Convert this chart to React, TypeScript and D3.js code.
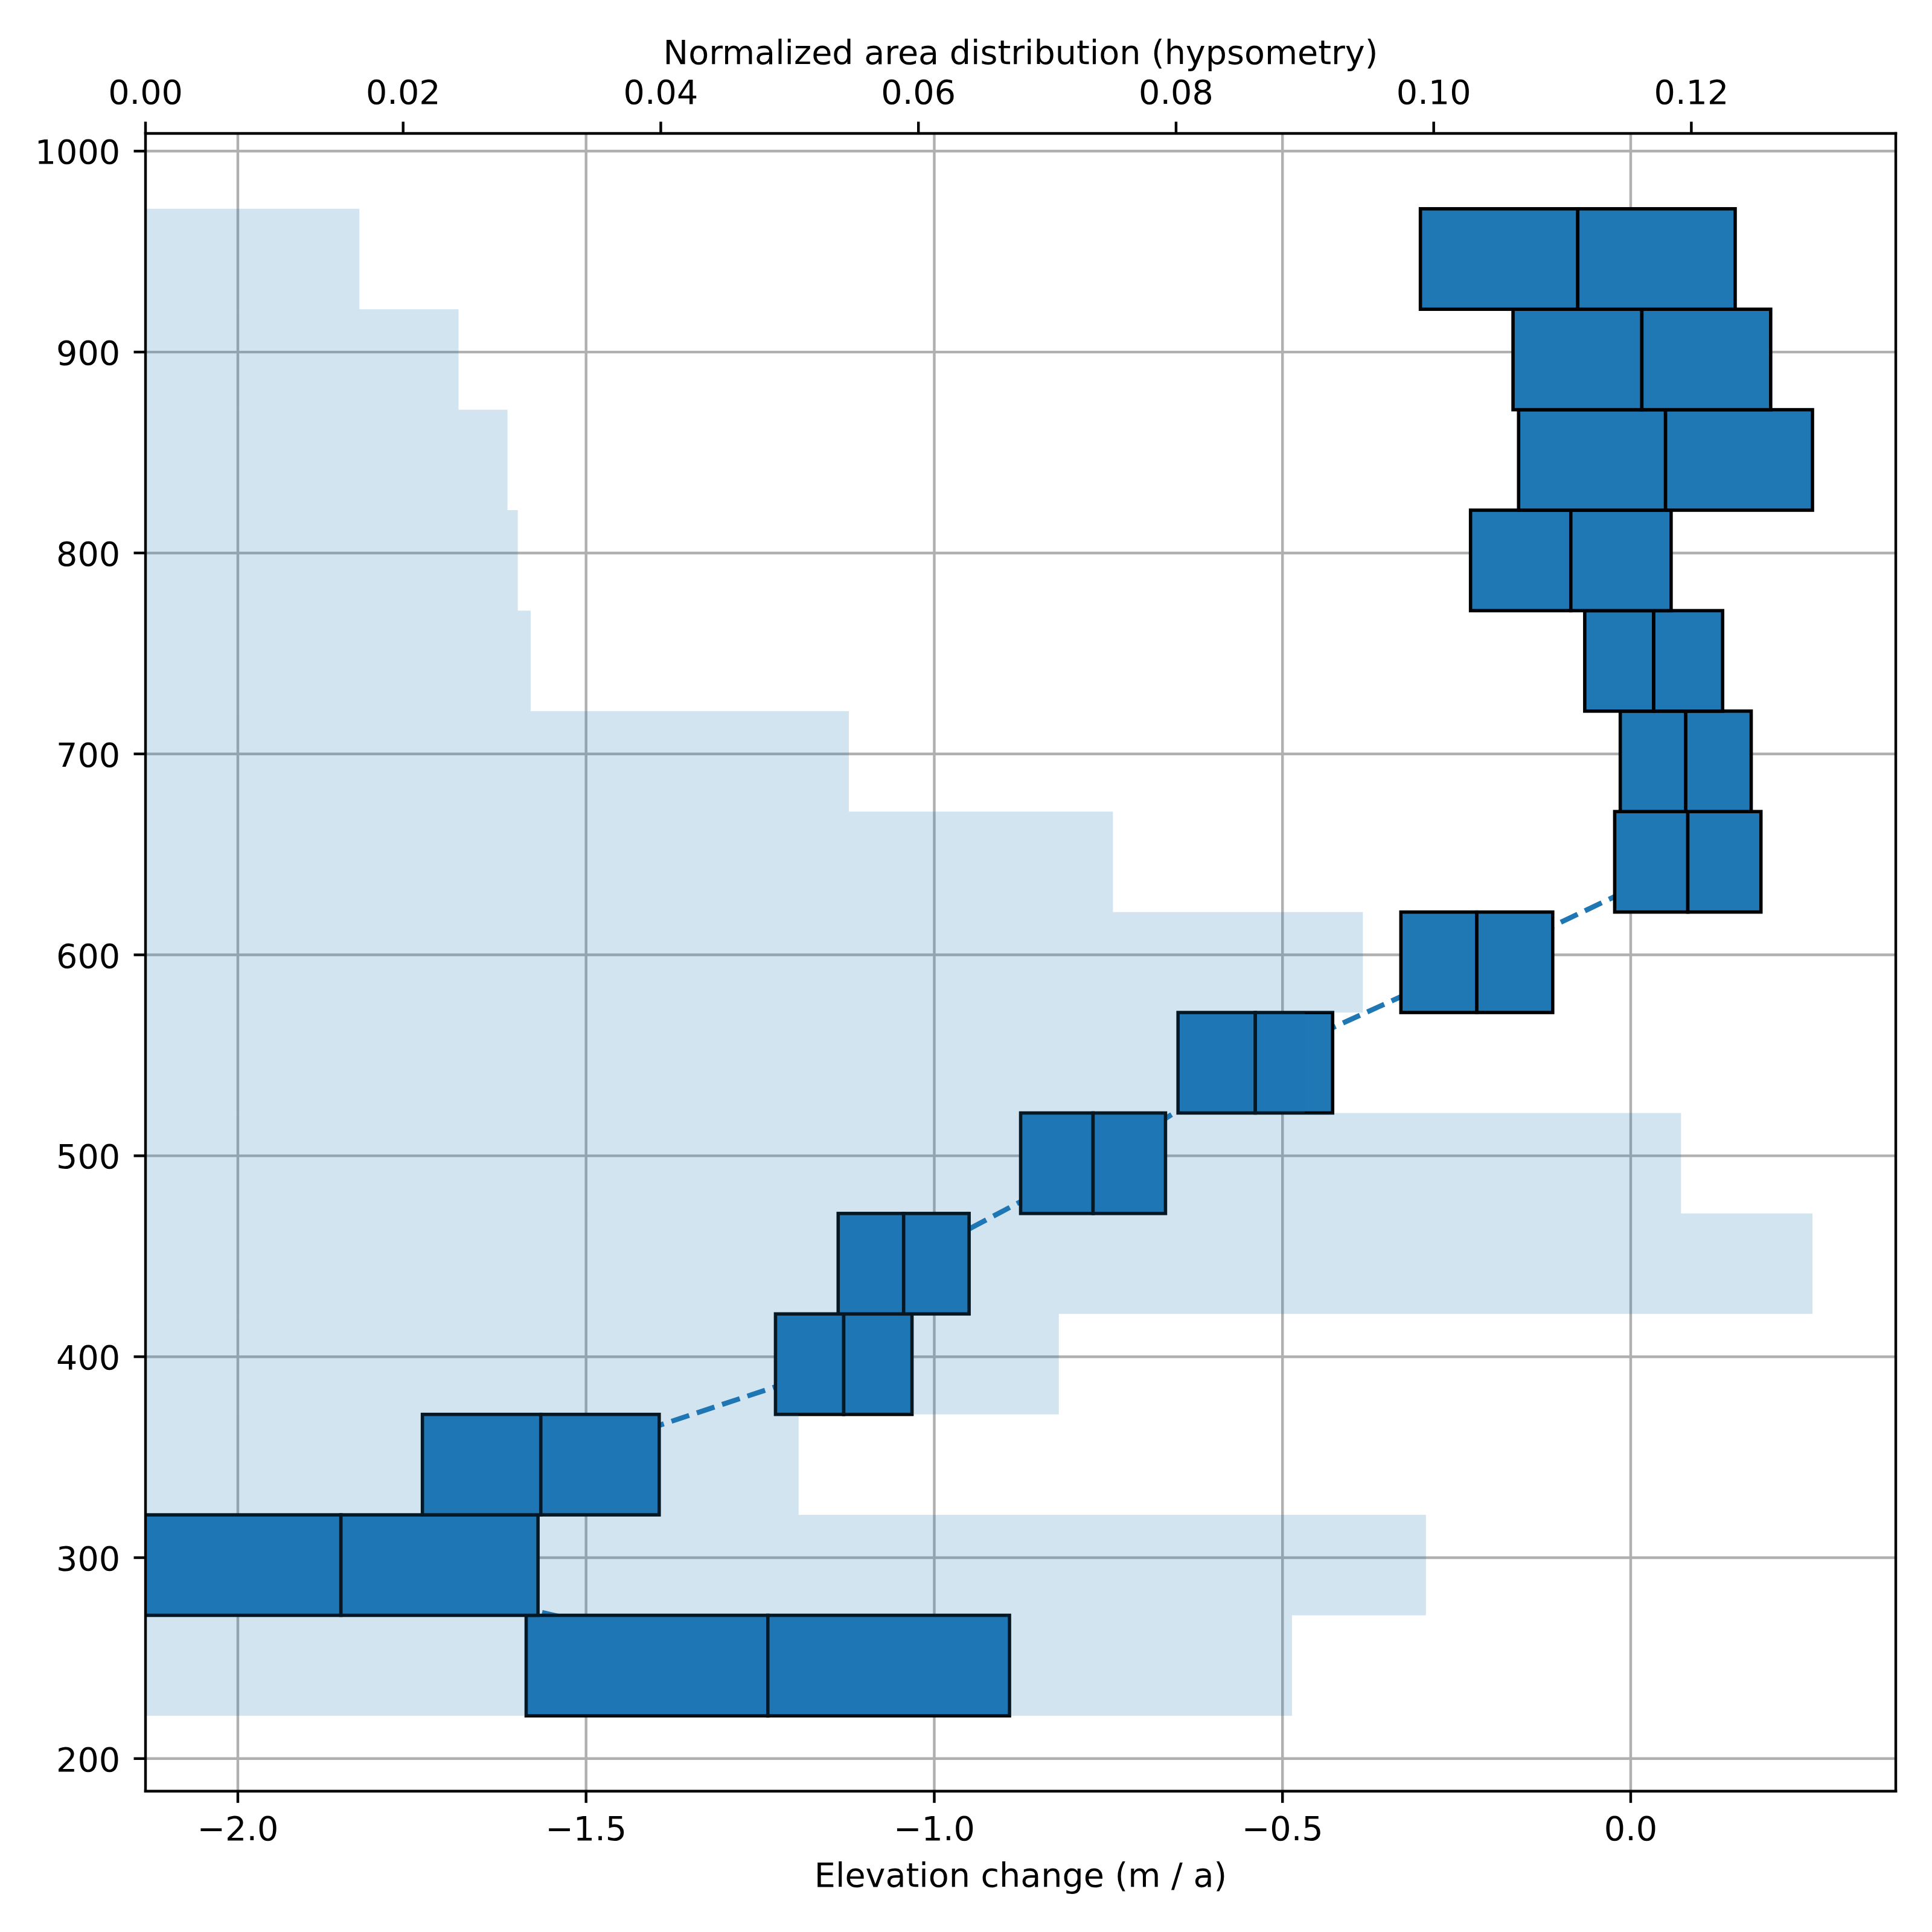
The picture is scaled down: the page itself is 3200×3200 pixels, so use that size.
import * as d3 from "d3";

// elevation bins (m), lower edges plus the last upper edge
const binEdges = [
  221.3, 271.3, 321.3, 371.3, 421.3, 471.3, 521.3, 571.3, 621.3, 671.3, 721.3,
  771.3, 821.3, 871.3, 921.3, 971.3,
];
// median elevation change per bin (m / a)
const dhMedian = [
  -1.239, -1.852, -1.565, -1.13, -1.044, -0.772, -0.539, -0.221, 0.082, 0.079,
  0.033, -0.086, 0.05, 0.016, -0.076,
];
// spread (NMAD) per bin, boxes span median ± nmad
const dhNmad = [
  0.347, 0.283, 0.17, 0.098, 0.094, 0.104, 0.111, 0.109, 0.105, 0.094, 0.099,
  0.144, 0.211, 0.185, 0.226,
];
// normalized area per bin
const hypsometry = [
  0.089, 0.0994, 0.0507, 0.0709, 0.1294, 0.1192, 0.09, 0.0945, 0.0751, 0.0546,
  0.0299, 0.0289, 0.0281, 0.0243, 0.0166,
];

const dhTicks = [-2.0, -1.5, -1.0, -0.5, 0.0];
const areaTicks = [0, 0.02, 0.04, 0.06, 0.08, 0.1, 0.12];
const elevTicks = [200, 300, 400, 500, 600, 700, 800, 900, 1000];

const C0 = "#1f77b4";
const PT = 400 / 72; // px per point at 400 dpi

export default function App({
  width = 3200,
  height = 3200,
  marginTop = 221,
  marginRight = 60,
  marginBottom = 233.3,
  marginLeft = 241,
}) {
  const x0 = marginLeft;
  const x1 = width - marginRight;
  const y0 = height - marginBottom;
  const y1 = marginTop;

  const lo = binEdges[0];
  const hi = binEdges[binEdges.length - 1];
  const pad = (hi - lo) * 0.05;
  const scaleY = d3.scaleLinear([lo - pad, hi + pad], [y0, y1]);
  const scaleX = d3.scaleLinear([-2.1326, 0.3806], [x0, x1]);
  const scaleA = d3.scaleLinear([0, d3.max(hypsometry)! * 1.05], [x0, x1]);

  const bins = dhMedian.map((m, i) => ({
    bottom: binEdges[i],
    top: binEdges[i + 1],
    mid: (binEdges[i] + binEdges[i + 1]) / 2,
    median: m,
    nmad: dhNmad[i],
    area: hypsometry[i],
  }));

  const medianLine = d3
    .line<(typeof bins)[0]>()
    .x((d) => scaleX(d.median))
    .y((d) => scaleY(d.mid));

  const fmtDh = (v: number) => d3.format(".1f")(v).replace("-", "\u2212");
  const fmtArea = d3.format(".2f");

  const lw = 0.8 * PT;
  const tickLen = 3.5 * PT;
  const fontSize = 10 * PT;

  return (
    <svg
      width={width}
      height={height}
      style={{ position: "absolute", left: 0, top: 0, background: "white" }}
      fontFamily="DejaVu Sans"
      fontSize={fontSize}
    >
      <title>Elevation change binned by elevation with hypsometry</title>
      <defs>
        <clipPath id="plotArea">
          <rect x={x0} y={y1} width={x1 - x0} height={y0 - y1} />
        </clipPath>
      </defs>
      <rect width={width} height={height} fill="white" />

      {/* grid */}
      <g stroke="#b0b0b0" strokeWidth={lw}>
        {dhTicks.map((t) => (
          <line key={`gx${t}`} x1={scaleX(t)} x2={scaleX(t)} y1={y1} y2={y0} />
        ))}
        {elevTicks.map((t) => (
          <line key={`gy${t}`} x1={x0} x2={x1} y1={scaleY(t)} y2={scaleY(t)} />
        ))}
      </g>

      <g clipPath="url(#plotArea)">
        {/* median profile */}
        <path
          d={medianLine(bins)!}
          fill="none"
          stroke={C0}
          strokeWidth={1.5 * PT}
          strokeDasharray={`${3.7 * 1.5 * PT} ${1.6 * 1.5 * PT}`}
        />
        {/* median ± nmad boxes */}
        <g fill={C0} stroke="black" strokeWidth={PT}>
          {bins.map((b, i) => (
            <g key={i}>
              <rect
                x={scaleX(b.median - b.nmad)}
                y={scaleY(b.top)}
                width={scaleX(b.median) - scaleX(b.median - b.nmad)}
                height={scaleY(b.bottom) - scaleY(b.top)}
              />
              <rect
                x={scaleX(b.median)}
                y={scaleY(b.top)}
                width={scaleX(b.median + b.nmad) - scaleX(b.median)}
                height={scaleY(b.bottom) - scaleY(b.top)}
              />
            </g>
          ))}
        </g>
        {/* hypsometry on the twin axis */}
        <g fill={C0} fillOpacity={0.2}>
          {bins.map((b, i) => (
            <rect
              key={i}
              x={scaleA(0)}
              y={scaleY(b.top)}
              width={scaleA(b.area) - scaleA(0)}
              height={scaleY(b.bottom) - scaleY(b.top)}
            />
          ))}
        </g>
      </g>

      {/* spines */}
      <g stroke="black" strokeWidth={lw} strokeLinecap="square">
        <line x1={x0} x2={x1} y1={y0} y2={y0} />
        <line x1={x0} x2={x1} y1={y1} y2={y1} />
        <line x1={x0} x2={x0} y1={y1} y2={y0} />
        <line x1={x1} x2={x1} y1={y1} y2={y0} />
      </g>

      {/* bottom axis */}
      <g>
        {dhTicks.map((t) => (
          <g key={t} transform={`translate(${scaleX(t)},0)`}>
            <line y1={y0} y2={y0 + tickLen} stroke="black" strokeWidth={lw} />
            <text y={y0 + 81.5} textAnchor="middle">
              {fmtDh(t)}
            </text>
          </g>
        ))}
        <text x={(x0 + x1) / 2} y={3125} textAnchor="middle">
          Elevation change (m / a)
        </text>
      </g>

      {/* top axis */}
      <g>
        {areaTicks.map((t) => (
          <g key={t} transform={`translate(${scaleA(t)},0)`}>
            <line y1={y1} y2={y1 - tickLen} stroke="black" strokeWidth={lw} />
            <text y={y1 - 49.5} textAnchor="middle">
              {fmtArea(t)}
            </text>
          </g>
        ))}
        <text x={(x0 + x1) / 2} y={106} textAnchor="middle">
          Normalized area distribution (hypsometry)
        </text>
      </g>

      {/* left axis */}
      <g>
        {elevTicks.map((t) => (
          <g key={t} transform={`translate(0,${scaleY(t)})`}>
            <line x1={x0} x2={x0 - tickLen} stroke="black" strokeWidth={lw} />
            <text x={x0 - 2 * tickLen - 3} y={21} textAnchor="end">
              {t}
            </text>
          </g>
        ))}
      </g>
    </svg>
  );
}
